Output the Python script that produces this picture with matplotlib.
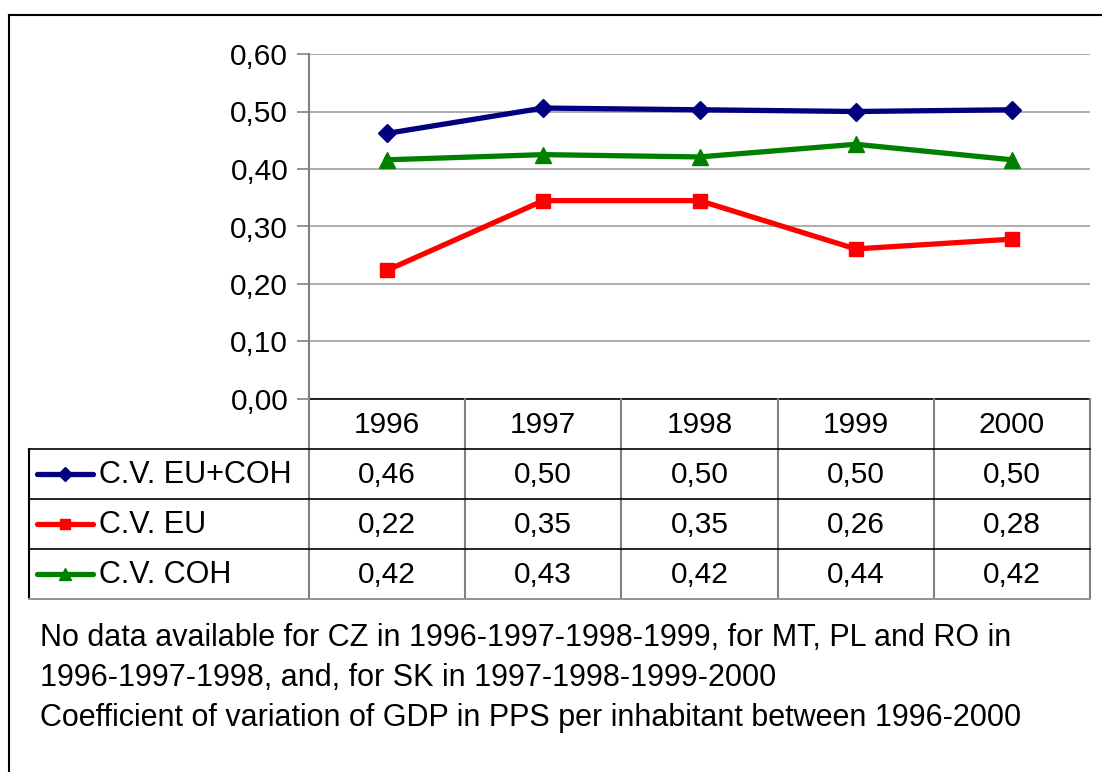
import matplotlib
matplotlib.use("Agg")
import matplotlib.pyplot as plt
from matplotlib.lines import Line2D

plt.rcParams['font.family'] = ['Liberation Sans', 'DejaVu Sans']

years = ["1996", "1997", "1998", "1999", "2000"]
series_names = ["C.V. EU+COH", "C.V. EU", "C.V. COH"]
eu_coh = [0.462, 0.506, 0.503, 0.500, 0.503]
eu = [0.224, 0.345, 0.345, 0.261, 0.278]
coh = [0.416, 0.425, 0.421, 0.443, 0.416]
table_eu_coh = ["0,46", "0,50", "0,50", "0,50", "0,50"]
table_eu = ["0,22", "0,35", "0,35", "0,26", "0,28"]
table_coh = ["0,42", "0,43", "0,42", "0,44", "0,42"]
yticks = [0.0, 0.1, 0.2, 0.3, 0.4, 0.5, 0.6]
ytick_labels = ["0,00", "0,10", "0,20", "0,30", "0,40", "0,50", "0,60"]
notes = ["No data available for CZ in 1996-1997-1998-1999, for MT, PL and RO in",
         "1996-1997-1998, and, for SK in 1997-1998-1999-2000",
         "Coefficient of variation of GDP in PPS per inhabitant between 1996-2000"]

colors = ["#000080", "#ff0000", "#008000"]
markers = ["D", "s", "^"]
msizes = [9, 9.5, 11]
values = [eu_coh, eu, coh]
table_vals = [table_eu_coh, table_eu, table_coh]

FS = 21.5
FS2 = 22
W, H = 1102, 772
fig = plt.figure(figsize=(W / 100, H / 100), dpi=100)

def fx(px):
    return px / W

def fy(py):
    return 1 - py / H

# outer border
fig.add_artist(Line2D([fx(9), fx(9)], [fy(15), fy(775)], color="black", lw=1.5))
fig.add_artist(Line2D([fx(9), fx(1105)], [fy(15), fy(15)], color="black", lw=1.5))

L, R, T, B = 309, 1090, 54, 399
ax = fig.add_axes([fx(L), fy(B), fx(R - L), (B - T) / H])
x = [i + 0.5 for i in range(len(years))]
for vals, c, m, ms in zip(values, colors, markers, msizes):
    ax.plot(x, vals, color=c, lw=3.8, marker=m, ms=ms, clip_on=False, zorder=3)
ax.set_xlim(0, len(years))
ax.set_ylim(0, 0.6)
ax.set_yticks(yticks)
ax.set_yticklabels(ytick_labels, fontsize=FS)
ax.set_xticks([])
ax.grid(axis="y", color="#a0a0a0", lw=1.2)
ax.set_axisbelow(True)
for s in ["top", "right"]:
    ax.spines[s].set_visible(False)
ax.spines["left"].set_color("#808080")
ax.spines["left"].set_linewidth(1.5)
ax.spines["bottom"].set_color("black")
ax.spines["bottom"].set_linewidth(1.2)
ax.tick_params(axis="y", direction="out", length=9, width=1.2, color="#808080", pad=6)

# data table
TL, TB = 29, 597
row_h = 50
tab = fig.add_axes([fx(TL), fy(TB), fx(R - TL), (TB - B) / H])
tab.set_xlim(TL, R)
tab.set_ylim(TB, B)
tab.axis("off")
col_w = (R - L) / len(years)
tab.plot([L, L], [B, TB], color="#808080", lw=1.5, clip_on=False)
for i in range(1, len(years) + 1):
    xx = L + i * col_w
    tab.plot([xx, xx], [B, TB], color="#808080", lw=1.5, clip_on=False)
tab.plot([TL, TL], [B + row_h, TB], color="black", lw=1.5, clip_on=False)
for j in range(1, 5):
    yy = B + j * row_h
    tab.plot([TL, R], [yy, yy], color="black" if j < 4 else "#808080", lw=1.2, clip_on=False)
for i, yr in enumerate(years):
    tab.text(L + (i + 0.5) * col_w, B + row_h / 2 + 1, yr, ha="center", va="center", fontsize=FS)
for j, (name, c, m, ms, tv) in enumerate(zip(series_names, colors, markers, msizes, table_vals)):
    yc = B + (j + 1.5) * row_h
    tab.plot([37, 93], [yc, yc], color=c, lw=3.8, solid_capstyle="round", clip_on=False)
    tab.plot([65], [yc], color=c, marker=m, ms=ms * 0.75, clip_on=False)
    tab.text(99, yc + 1, name, ha="left", va="center", fontsize=FS2)
    for i, v in enumerate(tv):
        tab.text(L + (i + 0.5) * col_w, yc + 1, v, ha="center", va="center", fontsize=FS)

for k, line in enumerate(notes):
    fig.text(fx(40), fy(638 + k * 40), line, ha="left", va="center", fontsize=FS2)

fig.savefig("out.png", dpi=100)
